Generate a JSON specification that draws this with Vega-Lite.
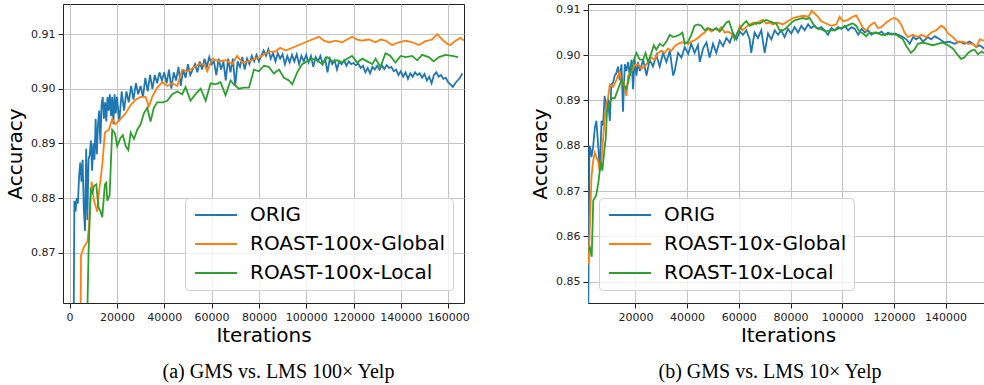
{
"$schema": "https://vega.github.io/schema/vega-lite/v6.json",
"padding": {"left": 5, "top": 3, "right": 0, "bottom": 0},
"background": "white",
"config": {
 "view": {"stroke": "#222222", "strokeWidth": 1},
 "axis": {"labelFont": "DejaVu Sans", "labelFontSize": 11, "labelColor": "#222222", "titleFont": "DejaVu Sans", "titleFontSize": 20, "titleFontWeight": "normal", "titleColor": "#000000", "tickColor": "#222222", "tickSize": 5, "labelPadding": 3, "gridColor": "#c4c4c4", "gridWidth": 1, "domain": false},
 "legend": {"labelFont": "DejaVu Sans", "labelFontSize": 20, "labelColor": "#000000", "symbolType": "M-1,0L5,0", "symbolStrokeWidth": 2, "symbolSize": 196, "fillColor": "rgba(255,255,255,0.8)", "strokeColor": "#d0d0d0", "cornerRadius": 4, "padding": 7, "rowPadding": 9, "labelOffset": 38, "orient": "none", "title": null, "labelLimit": 400},
 "title": {"font": "Liberation Serif", "fontSize": 20, "fontWeight": "normal", "color": "#000000", "orient": "bottom", "anchor": "middle", "frame": "group"}
},
"datasets": {
"a": [
{"series":"ORIG","iter":1700,"acc":0.855},{"series":"ORIG","iter":2000,"acc":0.8795},{"series":"ORIG","iter":2500,"acc":0.8775},{"series":"ORIG","iter":3000,"acc":0.88},{"series":"ORIG","iter":3500,"acc":0.879},{"series":"ORIG","iter":4000,"acc":0.884},{"series":"ORIG","iter":4500,"acc":0.8865},{"series":"ORIG","iter":5000,"acc":0.883},{"series":"ORIG","iter":5500,"acc":0.887},{"series":"ORIG","iter":6000,"acc":0.878},{"series":"ORIG","iter":6500,"acc":0.874},{"series":"ORIG","iter":7000,"acc":0.889},{"series":"ORIG","iter":7500,"acc":0.876},{"series":"ORIG","iter":8000,"acc":0.887},{"series":"ORIG","iter":8500,"acc":0.888},{"series":"ORIG","iter":9000,"acc":0.8905},{"series":"ORIG","iter":9500,"acc":0.885},{"series":"ORIG","iter":10000,"acc":0.89},{"series":"ORIG","iter":10500,"acc":0.887},{"series":"ORIG","iter":11000,"acc":0.8945},{"series":"ORIG","iter":11500,"acc":0.888},{"series":"ORIG","iter":12000,"acc":0.8935},{"series":"ORIG","iter":12500,"acc":0.896},{"series":"ORIG","iter":13000,"acc":0.89},{"series":"ORIG","iter":13500,"acc":0.897},{"series":"ORIG","iter":14000,"acc":0.8985},{"series":"ORIG","iter":14500,"acc":0.8945},{"series":"ORIG","iter":15000,"acc":0.8975},{"series":"ORIG","iter":15500,"acc":0.894},{"series":"ORIG","iter":16000,"acc":0.8985},{"series":"ORIG","iter":16500,"acc":0.896},{"series":"ORIG","iter":17000,"acc":0.899},{"series":"ORIG","iter":17500,"acc":0.895},{"series":"ORIG","iter":18000,"acc":0.8985},{"series":"ORIG","iter":18500,"acc":0.8935},{"series":"ORIG","iter":19000,"acc":0.899},{"series":"ORIG","iter":19500,"acc":0.8955},{"series":"ORIG","iter":20000,"acc":0.8985},{"series":"ORIG","iter":21000,"acc":0.894},{"series":"ORIG","iter":22000,"acc":0.8995},{"series":"ORIG","iter":23000,"acc":0.896},{"series":"ORIG","iter":24000,"acc":0.8995},{"series":"ORIG","iter":25000,"acc":0.8975},{"series":"ORIG","iter":26000,"acc":0.9005},{"series":"ORIG","iter":27000,"acc":0.898},{"series":"ORIG","iter":28000,"acc":0.901},{"series":"ORIG","iter":29000,"acc":0.899},{"series":"ORIG","iter":30000,"acc":0.9005},{"series":"ORIG","iter":31000,"acc":0.8985},{"series":"ORIG","iter":32000,"acc":0.902},{"series":"ORIG","iter":33000,"acc":0.8995},{"series":"ORIG","iter":34000,"acc":0.9025},{"series":"ORIG","iter":35000,"acc":0.9},{"series":"ORIG","iter":36000,"acc":0.9025},{"series":"ORIG","iter":37000,"acc":0.901},{"series":"ORIG","iter":38000,"acc":0.903},{"series":"ORIG","iter":39000,"acc":0.9015},{"series":"ORIG","iter":40000,"acc":0.903},{"series":"ORIG","iter":41000,"acc":0.901},{"series":"ORIG","iter":42000,"acc":0.9035},{"series":"ORIG","iter":43000,"acc":0.9},{"series":"ORIG","iter":44000,"acc":0.903},{"series":"ORIG","iter":45000,"acc":0.9015},{"series":"ORIG","iter":46000,"acc":0.904},{"series":"ORIG","iter":47000,"acc":0.9005},{"series":"ORIG","iter":48000,"acc":0.9035},{"series":"ORIG","iter":49000,"acc":0.902},{"series":"ORIG","iter":50000,"acc":0.9045},{"series":"ORIG","iter":51000,"acc":0.9025},{"series":"ORIG","iter":52000,"acc":0.9035},{"series":"ORIG","iter":53000,"acc":0.9045},{"series":"ORIG","iter":54000,"acc":0.903},{"series":"ORIG","iter":55000,"acc":0.905},{"series":"ORIG","iter":56000,"acc":0.9035},{"series":"ORIG","iter":57000,"acc":0.9055},{"series":"ORIG","iter":58000,"acc":0.904},{"series":"ORIG","iter":59000,"acc":0.9058},{"series":"ORIG","iter":60000,"acc":0.9045},{"series":"ORIG","iter":61000,"acc":0.905},{"series":"ORIG","iter":62000,"acc":0.9025},{"series":"ORIG","iter":63000,"acc":0.9055},{"series":"ORIG","iter":64000,"acc":0.9035},{"series":"ORIG","iter":65000,"acc":0.905},{"series":"ORIG","iter":66000,"acc":0.9015},{"series":"ORIG","iter":67000,"acc":0.9055},{"series":"ORIG","iter":68000,"acc":0.903},{"series":"ORIG","iter":69000,"acc":0.9055},{"series":"ORIG","iter":70000,"acc":0.9005},{"series":"ORIG","iter":71000,"acc":0.905},{"series":"ORIG","iter":72000,"acc":0.904},{"series":"ORIG","iter":73000,"acc":0.9058},{"series":"ORIG","iter":74000,"acc":0.9035},{"series":"ORIG","iter":75000,"acc":0.9055},{"series":"ORIG","iter":76000,"acc":0.9045},{"series":"ORIG","iter":77000,"acc":0.906},{"series":"ORIG","iter":78000,"acc":0.905},{"series":"ORIG","iter":79000,"acc":0.9062},{"series":"ORIG","iter":80000,"acc":0.905},{"series":"ORIG","iter":81000,"acc":0.906},{"series":"ORIG","iter":82000,"acc":0.907},{"series":"ORIG","iter":83000,"acc":0.906},{"series":"ORIG","iter":84000,"acc":0.9072},{"series":"ORIG","iter":85000,"acc":0.9055},{"series":"ORIG","iter":86000,"acc":0.9065},{"series":"ORIG","iter":87000,"acc":0.905},{"series":"ORIG","iter":88000,"acc":0.9065},{"series":"ORIG","iter":89000,"acc":0.9055},{"series":"ORIG","iter":90000,"acc":0.9063},{"series":"ORIG","iter":91000,"acc":0.9045},{"series":"ORIG","iter":92000,"acc":0.906},{"series":"ORIG","iter":93000,"acc":0.9048},{"series":"ORIG","iter":94000,"acc":0.9062},{"series":"ORIG","iter":95000,"acc":0.905},{"series":"ORIG","iter":96000,"acc":0.9063},{"series":"ORIG","iter":97000,"acc":0.9045},{"series":"ORIG","iter":98000,"acc":0.906},{"series":"ORIG","iter":99000,"acc":0.905},{"series":"ORIG","iter":100000,"acc":0.9062},{"series":"ORIG","iter":101000,"acc":0.9048},{"series":"ORIG","iter":102000,"acc":0.906},{"series":"ORIG","iter":103000,"acc":0.904},{"series":"ORIG","iter":104000,"acc":0.9058},{"series":"ORIG","iter":105000,"acc":0.905},{"series":"ORIG","iter":106000,"acc":0.906},{"series":"ORIG","iter":107000,"acc":0.9045},{"series":"ORIG","iter":108000,"acc":0.9055},{"series":"ORIG","iter":109000,"acc":0.903},{"series":"ORIG","iter":110000,"acc":0.9055},{"series":"ORIG","iter":111000,"acc":0.9045},{"series":"ORIG","iter":112000,"acc":0.9052},{"series":"ORIG","iter":113000,"acc":0.9035},{"series":"ORIG","iter":114000,"acc":0.905},{"series":"ORIG","iter":115000,"acc":0.9045},{"series":"ORIG","iter":116000,"acc":0.9052},{"series":"ORIG","iter":117000,"acc":0.9042},{"series":"ORIG","iter":118000,"acc":0.905},{"series":"ORIG","iter":119000,"acc":0.9045},{"series":"ORIG","iter":120000,"acc":0.9047},{"series":"ORIG","iter":121000,"acc":0.9043},{"series":"ORIG","iter":122000,"acc":0.9046},{"series":"ORIG","iter":123000,"acc":0.9038},{"series":"ORIG","iter":124000,"acc":0.9042},{"series":"ORIG","iter":125000,"acc":0.903},{"series":"ORIG","iter":126000,"acc":0.9038},{"series":"ORIG","iter":127000,"acc":0.9028},{"series":"ORIG","iter":128000,"acc":0.904},{"series":"ORIG","iter":129000,"acc":0.9035},{"series":"ORIG","iter":130000,"acc":0.9042},{"series":"ORIG","iter":131000,"acc":0.9035},{"series":"ORIG","iter":132000,"acc":0.9043},{"series":"ORIG","iter":133000,"acc":0.9036},{"series":"ORIG","iter":134000,"acc":0.9043},{"series":"ORIG","iter":135000,"acc":0.9038},{"series":"ORIG","iter":136000,"acc":0.904},{"series":"ORIG","iter":137000,"acc":0.9032},{"series":"ORIG","iter":138000,"acc":0.9035},{"series":"ORIG","iter":139000,"acc":0.9025},{"series":"ORIG","iter":140000,"acc":0.9032},{"series":"ORIG","iter":141000,"acc":0.9022},{"series":"ORIG","iter":142000,"acc":0.903},{"series":"ORIG","iter":143000,"acc":0.9018},{"series":"ORIG","iter":144000,"acc":0.9028},{"series":"ORIG","iter":145000,"acc":0.9022},{"series":"ORIG","iter":146000,"acc":0.903},{"series":"ORIG","iter":147000,"acc":0.9025},{"series":"ORIG","iter":148000,"acc":0.9028},{"series":"ORIG","iter":149000,"acc":0.902},{"series":"ORIG","iter":150000,"acc":0.9027},{"series":"ORIG","iter":151000,"acc":0.9015},{"series":"ORIG","iter":152000,"acc":0.9022},{"series":"ORIG","iter":153000,"acc":0.901},{"series":"ORIG","iter":154000,"acc":0.9025},{"series":"ORIG","iter":155000,"acc":0.903},{"series":"ORIG","iter":156000,"acc":0.9022},{"series":"ORIG","iter":157000,"acc":0.9025},{"series":"ORIG","iter":158000,"acc":0.9018},{"series":"ORIG","iter":159000,"acc":0.902},{"series":"ORIG","iter":160000,"acc":0.9012},{"series":"ORIG","iter":161000,"acc":0.9008},{"series":"ORIG","iter":162000,"acc":0.9003},{"series":"ORIG","iter":163000,"acc":0.901},{"series":"ORIG","iter":164000,"acc":0.9015},{"series":"ORIG","iter":165000,"acc":0.902},{"series":"ORIG","iter":166000,"acc":0.9028},
{"series":"ROAST-100x-Global","iter":4600,"acc":0.855},{"series":"ROAST-100x-Global","iter":4800,"acc":0.8695},{"series":"ROAST-100x-Global","iter":6000,"acc":0.871},{"series":"ROAST-100x-Global","iter":7500,"acc":0.872},{"series":"ROAST-100x-Global","iter":8200,"acc":0.875},{"series":"ROAST-100x-Global","iter":9300,"acc":0.883},{"series":"ROAST-100x-Global","iter":10300,"acc":0.8795},{"series":"ROAST-100x-Global","iter":11700,"acc":0.8775},{"series":"ROAST-100x-Global","iter":12400,"acc":0.881},{"series":"ROAST-100x-Global","iter":13800,"acc":0.886},{"series":"ROAST-100x-Global","iter":14900,"acc":0.892},{"series":"ROAST-100x-Global","iter":16600,"acc":0.8925},{"series":"ROAST-100x-Global","iter":18000,"acc":0.8945},{"series":"ROAST-100x-Global","iter":19400,"acc":0.8935},{"series":"ROAST-100x-Global","iter":21500,"acc":0.8945},{"series":"ROAST-100x-Global","iter":23700,"acc":0.8955},{"series":"ROAST-100x-Global","iter":25800,"acc":0.897},{"series":"ROAST-100x-Global","iter":27900,"acc":0.898},{"series":"ROAST-100x-Global","iter":30000,"acc":0.8985},{"series":"ROAST-100x-Global","iter":32100,"acc":0.8985},{"series":"ROAST-100x-Global","iter":33500,"acc":0.8968},{"series":"ROAST-100x-Global","iter":34900,"acc":0.8985},{"series":"ROAST-100x-Global","iter":37000,"acc":0.9002},{"series":"ROAST-100x-Global","iter":39200,"acc":0.9012},{"series":"ROAST-100x-Global","iter":41300,"acc":0.9005},{"series":"ROAST-100x-Global","iter":43400,"acc":0.901},{"series":"ROAST-100x-Global","iter":45500,"acc":0.9005},{"series":"ROAST-100x-Global","iter":47600,"acc":0.9035},{"series":"ROAST-100x-Global","iter":49700,"acc":0.9032},{"series":"ROAST-100x-Global","iter":51800,"acc":0.9037},{"series":"ROAST-100x-Global","iter":54600,"acc":0.9045},{"series":"ROAST-100x-Global","iter":56800,"acc":0.9045},{"series":"ROAST-100x-Global","iter":58200,"acc":0.9032},{"series":"ROAST-100x-Global","iter":60300,"acc":0.9055},{"series":"ROAST-100x-Global","iter":63100,"acc":0.905},{"series":"ROAST-100x-Global","iter":65900,"acc":0.9052},{"series":"ROAST-100x-Global","iter":68700,"acc":0.9045},{"series":"ROAST-100x-Global","iter":70800,"acc":0.906},{"series":"ROAST-100x-Global","iter":73000,"acc":0.9048},{"series":"ROAST-100x-Global","iter":75800,"acc":0.905},{"series":"ROAST-100x-Global","iter":78600,"acc":0.9055},{"series":"ROAST-100x-Global","iter":80700,"acc":0.9058},{"series":"ROAST-100x-Global","iter":82800,"acc":0.9065},{"series":"ROAST-100x-Global","iter":84900,"acc":0.9068},{"series":"ROAST-100x-Global","iter":87000,"acc":0.9068},{"series":"ROAST-100x-Global","iter":89000,"acc":0.9075},{"series":"ROAST-100x-Global","iter":91300,"acc":0.907},{"series":"ROAST-100x-Global","iter":94100,"acc":0.9075},{"series":"ROAST-100x-Global","iter":96900,"acc":0.908},{"series":"ROAST-100x-Global","iter":99700,"acc":0.9085},{"series":"ROAST-100x-Global","iter":102500,"acc":0.909},{"series":"ROAST-100x-Global","iter":105400,"acc":0.9095},{"series":"ROAST-100x-Global","iter":107500,"acc":0.9088},{"series":"ROAST-100x-Global","iter":109600,"acc":0.9085},{"series":"ROAST-100x-Global","iter":112400,"acc":0.9088},{"series":"ROAST-100x-Global","iter":115200,"acc":0.9085},{"series":"ROAST-100x-Global","iter":117300,"acc":0.909},{"series":"ROAST-100x-Global","iter":119400,"acc":0.9095},{"series":"ROAST-100x-Global","iter":121500,"acc":0.909},{"series":"ROAST-100x-Global","iter":123700,"acc":0.9088},{"series":"ROAST-100x-Global","iter":126500,"acc":0.909},{"series":"ROAST-100x-Global","iter":129300,"acc":0.9085},{"series":"ROAST-100x-Global","iter":131400,"acc":0.909},{"series":"ROAST-100x-Global","iter":133500,"acc":0.9088},{"series":"ROAST-100x-Global","iter":136300,"acc":0.908},{"series":"ROAST-100x-Global","iter":139200,"acc":0.9085},{"series":"ROAST-100x-Global","iter":142000,"acc":0.9088},{"series":"ROAST-100x-Global","iter":144800,"acc":0.9085},{"series":"ROAST-100x-Global","iter":147600,"acc":0.908},{"series":"ROAST-100x-Global","iter":150400,"acc":0.9087},{"series":"ROAST-100x-Global","iter":153200,"acc":0.909},{"series":"ROAST-100x-Global","iter":155400,"acc":0.91},{"series":"ROAST-100x-Global","iter":157500,"acc":0.909},{"series":"ROAST-100x-Global","iter":159600,"acc":0.9082},{"series":"ROAST-100x-Global","iter":161000,"acc":0.908},{"series":"ROAST-100x-Global","iter":163100,"acc":0.9088},{"series":"ROAST-100x-Global","iter":165200,"acc":0.9093},{"series":"ROAST-100x-Global","iter":166600,"acc":0.9088},
{"series":"ROAST-100x-Local","iter":7300,"acc":0.855},{"series":"ROAST-100x-Local","iter":8000,"acc":0.87},{"series":"ROAST-100x-Local","iter":8900,"acc":0.8815},{"series":"ROAST-100x-Local","iter":9600,"acc":0.881},{"series":"ROAST-100x-Local","iter":10300,"acc":0.8822},{"series":"ROAST-100x-Local","iter":11300,"acc":0.8825},{"series":"ROAST-100x-Local","iter":12100,"acc":0.8785},{"series":"ROAST-100x-Local","iter":13100,"acc":0.8775},{"series":"ROAST-100x-Local","iter":13800,"acc":0.8765},{"series":"ROAST-100x-Local","iter":14900,"acc":0.8825},{"series":"ROAST-100x-Local","iter":15500,"acc":0.8828},{"series":"ROAST-100x-Local","iter":15900,"acc":0.8795},{"series":"ROAST-100x-Local","iter":16900,"acc":0.8805},{"series":"ROAST-100x-Local","iter":18000,"acc":0.8925},{"series":"ROAST-100x-Local","iter":19200,"acc":0.8918},{"series":"ROAST-100x-Local","iter":20100,"acc":0.8895},{"series":"ROAST-100x-Local","iter":21500,"acc":0.891},{"series":"ROAST-100x-Local","iter":22500,"acc":0.8915},{"series":"ROAST-100x-Local","iter":23700,"acc":0.8895},{"series":"ROAST-100x-Local","iter":24800,"acc":0.8888},{"series":"ROAST-100x-Local","iter":25800,"acc":0.892},{"series":"ROAST-100x-Local","iter":27200,"acc":0.8908},{"series":"ROAST-100x-Local","iter":28600,"acc":0.8925},{"series":"ROAST-100x-Local","iter":30000,"acc":0.8935},{"series":"ROAST-100x-Local","iter":31400,"acc":0.8955},{"series":"ROAST-100x-Local","iter":32800,"acc":0.8965},{"series":"ROAST-100x-Local","iter":34200,"acc":0.894},{"series":"ROAST-100x-Local","iter":35600,"acc":0.8965},{"series":"ROAST-100x-Local","iter":37000,"acc":0.8975},{"series":"ROAST-100x-Local","iter":39200,"acc":0.8975},{"series":"ROAST-100x-Local","iter":41300,"acc":0.8978},{"series":"ROAST-100x-Local","iter":43400,"acc":0.899},{"series":"ROAST-100x-Local","iter":45500,"acc":0.8995},{"series":"ROAST-100x-Local","iter":47600,"acc":0.899},{"series":"ROAST-100x-Local","iter":49000,"acc":0.9003},{"series":"ROAST-100x-Local","iter":51100,"acc":0.8978},{"series":"ROAST-100x-Local","iter":53200,"acc":0.899},{"series":"ROAST-100x-Local","iter":55400,"acc":0.9},{"series":"ROAST-100x-Local","iter":57500,"acc":0.8978},{"series":"ROAST-100x-Local","iter":59600,"acc":0.901},{"series":"ROAST-100x-Local","iter":61700,"acc":0.9008},{"series":"ROAST-100x-Local","iter":63800,"acc":0.9012},{"series":"ROAST-100x-Local","iter":65900,"acc":0.8988},{"series":"ROAST-100x-Local","iter":68000,"acc":0.9015},{"series":"ROAST-100x-Local","iter":69400,"acc":0.9008},{"series":"ROAST-100x-Local","iter":71500,"acc":0.9},{"series":"ROAST-100x-Local","iter":73700,"acc":0.9002},{"series":"ROAST-100x-Local","iter":75800,"acc":0.9002},{"series":"ROAST-100x-Local","iter":77900,"acc":0.9035},{"series":"ROAST-100x-Local","iter":80000,"acc":0.9032},{"series":"ROAST-100x-Local","iter":82100,"acc":0.9042},{"series":"ROAST-100x-Local","iter":84200,"acc":0.904},{"series":"ROAST-100x-Local","iter":86300,"acc":0.9028},{"series":"ROAST-100x-Local","iter":88500,"acc":0.9035},{"series":"ROAST-100x-Local","iter":90600,"acc":0.902},{"series":"ROAST-100x-Local","iter":92700,"acc":0.9015},{"series":"ROAST-100x-Local","iter":94100,"acc":0.9008},{"series":"ROAST-100x-Local","iter":96200,"acc":0.903},{"series":"ROAST-100x-Local","iter":98300,"acc":0.9045},{"series":"ROAST-100x-Local","iter":100400,"acc":0.905},{"series":"ROAST-100x-Local","iter":102500,"acc":0.9055},{"series":"ROAST-100x-Local","iter":104600,"acc":0.9052},{"series":"ROAST-100x-Local","iter":106800,"acc":0.9045},{"series":"ROAST-100x-Local","iter":108900,"acc":0.9058},{"series":"ROAST-100x-Local","iter":111000,"acc":0.905},{"series":"ROAST-100x-Local","iter":113100,"acc":0.9052},{"series":"ROAST-100x-Local","iter":115200,"acc":0.9048},{"series":"ROAST-100x-Local","iter":117300,"acc":0.9055},{"series":"ROAST-100x-Local","iter":119400,"acc":0.906},{"series":"ROAST-100x-Local","iter":121500,"acc":0.9048},{"series":"ROAST-100x-Local","iter":123700,"acc":0.9055},{"series":"ROAST-100x-Local","iter":125800,"acc":0.905},{"series":"ROAST-100x-Local","iter":127900,"acc":0.9045},{"series":"ROAST-100x-Local","iter":129300,"acc":0.9055},{"series":"ROAST-100x-Local","iter":131400,"acc":0.904},{"series":"ROAST-100x-Local","iter":133500,"acc":0.9065},{"series":"ROAST-100x-Local","iter":135600,"acc":0.906},{"series":"ROAST-100x-Local","iter":137700,"acc":0.9048},{"series":"ROAST-100x-Local","iter":139900,"acc":0.906},{"series":"ROAST-100x-Local","iter":142000,"acc":0.9058},{"series":"ROAST-100x-Local","iter":144800,"acc":0.906},{"series":"ROAST-100x-Local","iter":146900,"acc":0.9052},{"series":"ROAST-100x-Local","iter":149000,"acc":0.9062},{"series":"ROAST-100x-Local","iter":151800,"acc":0.9058},{"series":"ROAST-100x-Local","iter":153900,"acc":0.905},{"series":"ROAST-100x-Local","iter":156100,"acc":0.9058},{"series":"ROAST-100x-Local","iter":158900,"acc":0.9062},{"series":"ROAST-100x-Local","iter":161700,"acc":0.906},{"series":"ROAST-100x-Local","iter":164200,"acc":0.9058}
],
"b": [
{"series":"ORIG","iter":1700,"acc":0.838},{"series":"ORIG","iter":2200,"acc":0.88},{"series":"ORIG","iter":2600,"acc":0.8795},{"series":"ORIG","iter":3000,"acc":0.8775},{"series":"ORIG","iter":3600,"acc":0.8795},{"series":"ORIG","iter":4300,"acc":0.884},{"series":"ORIG","iter":4900,"acc":0.8855},{"series":"ORIG","iter":5600,"acc":0.88},{"series":"ORIG","iter":6200,"acc":0.8745},{"series":"ORIG","iter":6900,"acc":0.8855},{"series":"ORIG","iter":7500,"acc":0.8845},{"series":"ORIG","iter":8100,"acc":0.891},{"series":"ORIG","iter":8800,"acc":0.8875},{"series":"ORIG","iter":9400,"acc":0.8905},{"series":"ORIG","iter":10100,"acc":0.8855},{"series":"ORIG","iter":10700,"acc":0.8935},{"series":"ORIG","iter":11400,"acc":0.894},{"series":"ORIG","iter":12000,"acc":0.8955},{"series":"ORIG","iter":12600,"acc":0.896},{"series":"ORIG","iter":13300,"acc":0.8975},{"series":"ORIG","iter":13900,"acc":0.8945},{"series":"ORIG","iter":14600,"acc":0.898},{"series":"ORIG","iter":15200,"acc":0.8875},{"series":"ORIG","iter":15900,"acc":0.898},{"series":"ORIG","iter":16500,"acc":0.8965},{"series":"ORIG","iter":17200,"acc":0.8985},{"series":"ORIG","iter":17800,"acc":0.8955},{"series":"ORIG","iter":18500,"acc":0.899},{"series":"ORIG","iter":19100,"acc":0.8925},{"series":"ORIG","iter":19700,"acc":0.899},{"series":"ORIG","iter":20400,"acc":0.8955},{"series":"ORIG","iter":21000,"acc":0.8985},{"series":"ORIG","iter":21700,"acc":0.8965},{"series":"ORIG","iter":23000,"acc":0.899},{"series":"ORIG","iter":24300,"acc":0.8955},{"series":"ORIG","iter":25500,"acc":0.899},{"series":"ORIG","iter":26800,"acc":0.8975},{"series":"ORIG","iter":28100,"acc":0.9},{"series":"ORIG","iter":29400,"acc":0.8975},{"series":"ORIG","iter":30700,"acc":0.9005},{"series":"ORIG","iter":32000,"acc":0.8985},{"series":"ORIG","iter":33300,"acc":0.901},{"series":"ORIG","iter":34600,"acc":0.8955},{"series":"ORIG","iter":35200,"acc":0.8965},{"series":"ORIG","iter":36500,"acc":0.9005},{"series":"ORIG","iter":37800,"acc":0.8995},{"series":"ORIG","iter":39100,"acc":0.9018},{"series":"ORIG","iter":40400,"acc":0.9003},{"series":"ORIG","iter":41600,"acc":0.9025},{"series":"ORIG","iter":42900,"acc":0.9005},{"series":"ORIG","iter":44200,"acc":0.9022},{"series":"ORIG","iter":44900,"acc":0.8985},{"series":"ORIG","iter":46200,"acc":0.9015},{"series":"ORIG","iter":47500,"acc":0.9028},{"series":"ORIG","iter":48700,"acc":0.8995},{"series":"ORIG","iter":50000,"acc":0.9025},{"series":"ORIG","iter":51300,"acc":0.9005},{"series":"ORIG","iter":52600,"acc":0.9032},{"series":"ORIG","iter":53900,"acc":0.902},{"series":"ORIG","iter":55200,"acc":0.9038},{"series":"ORIG","iter":56500,"acc":0.9028},{"series":"ORIG","iter":57800,"acc":0.9048},{"series":"ORIG","iter":59100,"acc":0.9035},{"series":"ORIG","iter":60400,"acc":0.9052},{"series":"ORIG","iter":61600,"acc":0.9045},{"series":"ORIG","iter":62900,"acc":0.9055},{"series":"ORIG","iter":64200,"acc":0.9035},{"series":"ORIG","iter":64800,"acc":0.9005},{"series":"ORIG","iter":66100,"acc":0.905},{"series":"ORIG","iter":67400,"acc":0.9038},{"series":"ORIG","iter":68700,"acc":0.9055},{"series":"ORIG","iter":70000,"acc":0.9005},{"series":"ORIG","iter":71300,"acc":0.9048},{"series":"ORIG","iter":72600,"acc":0.9035},{"series":"ORIG","iter":73900,"acc":0.9055},{"series":"ORIG","iter":75200,"acc":0.9045},{"series":"ORIG","iter":76400,"acc":0.9055},{"series":"ORIG","iter":77700,"acc":0.904},{"series":"ORIG","iter":79000,"acc":0.9058},{"series":"ORIG","iter":80300,"acc":0.9048},{"series":"ORIG","iter":81600,"acc":0.9062},{"series":"ORIG","iter":82900,"acc":0.905},{"series":"ORIG","iter":84200,"acc":0.9065},{"series":"ORIG","iter":85500,"acc":0.9055},{"series":"ORIG","iter":86800,"acc":0.9068},{"series":"ORIG","iter":88000,"acc":0.906},{"series":"ORIG","iter":89300,"acc":0.9065},{"series":"ORIG","iter":90600,"acc":0.9058},{"series":"ORIG","iter":91900,"acc":0.9062},{"series":"ORIG","iter":93200,"acc":0.9055},{"series":"ORIG","iter":94500,"acc":0.9045},{"series":"ORIG","iter":95800,"acc":0.906},{"series":"ORIG","iter":97100,"acc":0.9055},{"series":"ORIG","iter":98400,"acc":0.9062},{"series":"ORIG","iter":99700,"acc":0.9058},{"series":"ORIG","iter":101000,"acc":0.9065},{"series":"ORIG","iter":102300,"acc":0.9055},{"series":"ORIG","iter":103600,"acc":0.9062},{"series":"ORIG","iter":104900,"acc":0.9058},{"series":"ORIG","iter":106200,"acc":0.9045},{"series":"ORIG","iter":107500,"acc":0.9058},{"series":"ORIG","iter":108800,"acc":0.905},{"series":"ORIG","iter":110000,"acc":0.9055},{"series":"ORIG","iter":111300,"acc":0.9045},{"series":"ORIG","iter":112600,"acc":0.905},{"series":"ORIG","iter":113900,"acc":0.9048},{"series":"ORIG","iter":115200,"acc":0.9052},{"series":"ORIG","iter":116500,"acc":0.9045},{"series":"ORIG","iter":117800,"acc":0.905},{"series":"ORIG","iter":119100,"acc":0.9045},{"series":"ORIG","iter":120400,"acc":0.9048},{"series":"ORIG","iter":121700,"acc":0.9045},{"series":"ORIG","iter":123500,"acc":0.904},{"series":"ORIG","iter":124800,"acc":0.9035},{"series":"ORIG","iter":126100,"acc":0.9025},{"series":"ORIG","iter":127400,"acc":0.904},{"series":"ORIG","iter":128600,"acc":0.9035},{"series":"ORIG","iter":129900,"acc":0.904},{"series":"ORIG","iter":131200,"acc":0.903},{"series":"ORIG","iter":133100,"acc":0.904},{"series":"ORIG","iter":134400,"acc":0.9035},{"series":"ORIG","iter":135800,"acc":0.9042},{"series":"ORIG","iter":137700,"acc":0.9035},{"series":"ORIG","iter":139600,"acc":0.9028},{"series":"ORIG","iter":141500,"acc":0.903},{"series":"ORIG","iter":143500,"acc":0.9025},{"series":"ORIG","iter":145400,"acc":0.903},{"series":"ORIG","iter":147300,"acc":0.9025},{"series":"ORIG","iter":149300,"acc":0.903},{"series":"ORIG","iter":150600,"acc":0.9025},{"series":"ORIG","iter":151900,"acc":0.9018},{"series":"ORIG","iter":153200,"acc":0.9022},{"series":"ORIG","iter":154800,"acc":0.9015},{"series":"ORIG","iter":156000,"acc":0.902},
{"series":"ROAST-10x-Global","iter":1900,"acc":0.8538},{"series":"ROAST-10x-Global","iter":3000,"acc":0.873},{"series":"ROAST-10x-Global","iter":3600,"acc":0.8765},{"series":"ROAST-10x-Global","iter":4300,"acc":0.8785},{"series":"ROAST-10x-Global","iter":4900,"acc":0.8775},{"series":"ROAST-10x-Global","iter":5600,"acc":0.8765},{"series":"ROAST-10x-Global","iter":6200,"acc":0.8745},{"series":"ROAST-10x-Global","iter":6900,"acc":0.877},{"series":"ROAST-10x-Global","iter":7500,"acc":0.8815},{"series":"ROAST-10x-Global","iter":8100,"acc":0.886},{"series":"ROAST-10x-Global","iter":8800,"acc":0.8895},{"series":"ROAST-10x-Global","iter":9400,"acc":0.8905},{"series":"ROAST-10x-Global","iter":10100,"acc":0.8935},{"series":"ROAST-10x-Global","iter":11400,"acc":0.893},{"series":"ROAST-10x-Global","iter":12600,"acc":0.8945},{"series":"ROAST-10x-Global","iter":13900,"acc":0.8965},{"series":"ROAST-10x-Global","iter":14600,"acc":0.8935},{"series":"ROAST-10x-Global","iter":15500,"acc":0.894},{"series":"ROAST-10x-Global","iter":16500,"acc":0.891},{"series":"ROAST-10x-Global","iter":17200,"acc":0.8955},{"series":"ROAST-10x-Global","iter":18500,"acc":0.8965},{"series":"ROAST-10x-Global","iter":19700,"acc":0.8978},{"series":"ROAST-10x-Global","iter":21000,"acc":0.898},{"series":"ROAST-10x-Global","iter":22300,"acc":0.897},{"series":"ROAST-10x-Global","iter":23600,"acc":0.8975},{"series":"ROAST-10x-Global","iter":24900,"acc":0.8985},{"series":"ROAST-10x-Global","iter":26200,"acc":0.8995},{"series":"ROAST-10x-Global","iter":27500,"acc":0.899},{"series":"ROAST-10x-Global","iter":28800,"acc":0.9005},{"series":"ROAST-10x-Global","iter":30100,"acc":0.901},{"series":"ROAST-10x-Global","iter":31300,"acc":0.9005},{"series":"ROAST-10x-Global","iter":32600,"acc":0.9015},{"series":"ROAST-10x-Global","iter":33900,"acc":0.901},{"series":"ROAST-10x-Global","iter":35200,"acc":0.902},{"series":"ROAST-10x-Global","iter":36500,"acc":0.9025},{"series":"ROAST-10x-Global","iter":37800,"acc":0.9028},{"series":"ROAST-10x-Global","iter":39100,"acc":0.9028},{"series":"ROAST-10x-Global","iter":40400,"acc":0.9025},{"series":"ROAST-10x-Global","iter":41600,"acc":0.903},{"series":"ROAST-10x-Global","iter":42900,"acc":0.9033},{"series":"ROAST-10x-Global","iter":44200,"acc":0.9038},{"series":"ROAST-10x-Global","iter":45500,"acc":0.9045},{"series":"ROAST-10x-Global","iter":46800,"acc":0.905},{"series":"ROAST-10x-Global","iter":48100,"acc":0.9058},{"series":"ROAST-10x-Global","iter":49400,"acc":0.9052},{"series":"ROAST-10x-Global","iter":50700,"acc":0.9058},{"series":"ROAST-10x-Global","iter":52000,"acc":0.9055},{"series":"ROAST-10x-Global","iter":53200,"acc":0.9062},{"series":"ROAST-10x-Global","iter":54500,"acc":0.905},{"series":"ROAST-10x-Global","iter":55800,"acc":0.9052},{"series":"ROAST-10x-Global","iter":57100,"acc":0.9048},{"series":"ROAST-10x-Global","iter":58400,"acc":0.9038},{"series":"ROAST-10x-Global","iter":59300,"acc":0.9045},{"series":"ROAST-10x-Global","iter":60400,"acc":0.9065},{"series":"ROAST-10x-Global","iter":61400,"acc":0.9055},{"series":"ROAST-10x-Global","iter":62900,"acc":0.9062},{"series":"ROAST-10x-Global","iter":64200,"acc":0.9068},{"series":"ROAST-10x-Global","iter":65500,"acc":0.9072},{"series":"ROAST-10x-Global","iter":66800,"acc":0.9068},{"series":"ROAST-10x-Global","iter":68100,"acc":0.9075},{"series":"ROAST-10x-Global","iter":69400,"acc":0.9078},{"series":"ROAST-10x-Global","iter":70600,"acc":0.907},{"series":"ROAST-10x-Global","iter":71900,"acc":0.9072},{"series":"ROAST-10x-Global","iter":73200,"acc":0.9068},{"series":"ROAST-10x-Global","iter":75000,"acc":0.9072},{"series":"ROAST-10x-Global","iter":77000,"acc":0.9068},{"series":"ROAST-10x-Global","iter":79000,"acc":0.9075},{"series":"ROAST-10x-Global","iter":81000,"acc":0.9082},{"series":"ROAST-10x-Global","iter":83000,"acc":0.9085},{"series":"ROAST-10x-Global","iter":85000,"acc":0.9087},{"series":"ROAST-10x-Global","iter":87000,"acc":0.9085},{"series":"ROAST-10x-Global","iter":88200,"acc":0.9098},{"series":"ROAST-10x-Global","iter":90600,"acc":0.9085},{"series":"ROAST-10x-Global","iter":91900,"acc":0.9075},{"series":"ROAST-10x-Global","iter":93800,"acc":0.907},{"series":"ROAST-10x-Global","iter":95800,"acc":0.9065},{"series":"ROAST-10x-Global","iter":97700,"acc":0.9068},{"series":"ROAST-10x-Global","iter":99000,"acc":0.9085},{"series":"ROAST-10x-Global","iter":100300,"acc":0.9075},{"series":"ROAST-10x-Global","iter":102200,"acc":0.9078},{"series":"ROAST-10x-Global","iter":104100,"acc":0.9085},{"series":"ROAST-10x-Global","iter":105400,"acc":0.9088},{"series":"ROAST-10x-Global","iter":106700,"acc":0.9075},{"series":"ROAST-10x-Global","iter":108000,"acc":0.906},{"series":"ROAST-10x-Global","iter":109300,"acc":0.9055},{"series":"ROAST-10x-Global","iter":111200,"acc":0.9068},{"series":"ROAST-10x-Global","iter":112500,"acc":0.9072},{"series":"ROAST-10x-Global","iter":113800,"acc":0.906},{"series":"ROAST-10x-Global","iter":115100,"acc":0.9062},{"series":"ROAST-10x-Global","iter":117000,"acc":0.9072},{"series":"ROAST-10x-Global","iter":119000,"acc":0.908},{"series":"ROAST-10x-Global","iter":120200,"acc":0.9082},{"series":"ROAST-10x-Global","iter":121500,"acc":0.9078},{"series":"ROAST-10x-Global","iter":122800,"acc":0.9068},{"series":"ROAST-10x-Global","iter":124100,"acc":0.905},{"series":"ROAST-10x-Global","iter":125400,"acc":0.904},{"series":"ROAST-10x-Global","iter":127300,"acc":0.9045},{"series":"ROAST-10x-Global","iter":129300,"acc":0.904},{"series":"ROAST-10x-Global","iter":130600,"acc":0.9045},{"series":"ROAST-10x-Global","iter":132500,"acc":0.904},{"series":"ROAST-10x-Global","iter":134400,"acc":0.905},{"series":"ROAST-10x-Global","iter":136400,"acc":0.9055},{"series":"ROAST-10x-Global","iter":138300,"acc":0.9065},{"series":"ROAST-10x-Global","iter":139600,"acc":0.906},{"series":"ROAST-10x-Global","iter":140900,"acc":0.9048},{"series":"ROAST-10x-Global","iter":142800,"acc":0.904},{"series":"ROAST-10x-Global","iter":144800,"acc":0.9028},{"series":"ROAST-10x-Global","iter":146700,"acc":0.903},{"series":"ROAST-10x-Global","iter":148700,"acc":0.9025},{"series":"ROAST-10x-Global","iter":150600,"acc":0.9025},{"series":"ROAST-10x-Global","iter":151900,"acc":0.9018},{"series":"ROAST-10x-Global","iter":153200,"acc":0.9035},{"series":"ROAST-10x-Global","iter":154800,"acc":0.9032},{"series":"ROAST-10x-Global","iter":156000,"acc":0.903},
{"series":"ROAST-10x-Local","iter":1900,"acc":0.857},{"series":"ROAST-10x-Local","iter":2400,"acc":0.8575},{"series":"ROAST-10x-Local","iter":3100,"acc":0.8555},{"series":"ROAST-10x-Local","iter":3700,"acc":0.868},{"series":"ROAST-10x-Local","iter":4800,"acc":0.869},{"series":"ROAST-10x-Local","iter":5700,"acc":0.872},{"series":"ROAST-10x-Local","iter":6600,"acc":0.8765},{"series":"ROAST-10x-Local","iter":7200,"acc":0.8745},{"series":"ROAST-10x-Local","iter":7900,"acc":0.8785},{"series":"ROAST-10x-Local","iter":8500,"acc":0.8815},{"series":"ROAST-10x-Local","iter":9000,"acc":0.8875},{"series":"ROAST-10x-Local","iter":9700,"acc":0.889},{"series":"ROAST-10x-Local","iter":10700,"acc":0.8905},{"series":"ROAST-10x-Local","iter":12000,"acc":0.8905},{"series":"ROAST-10x-Local","iter":13300,"acc":0.8925},{"series":"ROAST-10x-Local","iter":14600,"acc":0.8945},{"series":"ROAST-10x-Local","iter":15500,"acc":0.8935},{"series":"ROAST-10x-Local","iter":16500,"acc":0.8925},{"series":"ROAST-10x-Local","iter":17800,"acc":0.8955},{"series":"ROAST-10x-Local","iter":19100,"acc":0.8985},{"series":"ROAST-10x-Local","iter":20400,"acc":0.9005},{"series":"ROAST-10x-Local","iter":21700,"acc":0.899},{"series":"ROAST-10x-Local","iter":23000,"acc":0.899},{"series":"ROAST-10x-Local","iter":23900,"acc":0.9005},{"series":"ROAST-10x-Local","iter":24900,"acc":0.8985},{"series":"ROAST-10x-Local","iter":26200,"acc":0.9005},{"series":"ROAST-10x-Local","iter":27100,"acc":0.9022},{"series":"ROAST-10x-Local","iter":28100,"acc":0.9012},{"series":"ROAST-10x-Local","iter":29400,"acc":0.9025},{"series":"ROAST-10x-Local","iter":30700,"acc":0.902},{"series":"ROAST-10x-Local","iter":32000,"acc":0.903},{"series":"ROAST-10x-Local","iter":33300,"acc":0.9045},{"series":"ROAST-10x-Local","iter":34600,"acc":0.904},{"series":"ROAST-10x-Local","iter":35800,"acc":0.9042},{"series":"ROAST-10x-Local","iter":37100,"acc":0.9045},{"series":"ROAST-10x-Local","iter":38200,"acc":0.905},{"series":"ROAST-10x-Local","iter":39100,"acc":0.9025},{"series":"ROAST-10x-Local","iter":40400,"acc":0.903},{"series":"ROAST-10x-Local","iter":41600,"acc":0.9045},{"series":"ROAST-10x-Local","iter":42900,"acc":0.9065},{"series":"ROAST-10x-Local","iter":44200,"acc":0.9068},{"series":"ROAST-10x-Local","iter":45500,"acc":0.9065},{"series":"ROAST-10x-Local","iter":46800,"acc":0.9055},{"series":"ROAST-10x-Local","iter":48100,"acc":0.906},{"series":"ROAST-10x-Local","iter":50000,"acc":0.9055},{"series":"ROAST-10x-Local","iter":51300,"acc":0.906},{"series":"ROAST-10x-Local","iter":52600,"acc":0.9052},{"series":"ROAST-10x-Local","iter":53900,"acc":0.9062},{"series":"ROAST-10x-Local","iter":55200,"acc":0.9072},{"series":"ROAST-10x-Local","iter":56200,"acc":0.9075},{"series":"ROAST-10x-Local","iter":57100,"acc":0.906},{"series":"ROAST-10x-Local","iter":58400,"acc":0.9035},{"series":"ROAST-10x-Local","iter":59300,"acc":0.9048},{"series":"ROAST-10x-Local","iter":60400,"acc":0.9058},{"series":"ROAST-10x-Local","iter":61600,"acc":0.9068},{"series":"ROAST-10x-Local","iter":62900,"acc":0.9075},{"series":"ROAST-10x-Local","iter":64200,"acc":0.9065},{"series":"ROAST-10x-Local","iter":65500,"acc":0.9068},{"series":"ROAST-10x-Local","iter":66800,"acc":0.9072},{"series":"ROAST-10x-Local","iter":68100,"acc":0.907},{"series":"ROAST-10x-Local","iter":69400,"acc":0.9075},{"series":"ROAST-10x-Local","iter":70600,"acc":0.9078},{"series":"ROAST-10x-Local","iter":71900,"acc":0.9075},{"series":"ROAST-10x-Local","iter":73200,"acc":0.9072},{"series":"ROAST-10x-Local","iter":74500,"acc":0.907},{"series":"ROAST-10x-Local","iter":75800,"acc":0.9055},{"series":"ROAST-10x-Local","iter":77100,"acc":0.9055},{"series":"ROAST-10x-Local","iter":78400,"acc":0.906},{"series":"ROAST-10x-Local","iter":79700,"acc":0.9068},{"series":"ROAST-10x-Local","iter":81000,"acc":0.9075},{"series":"ROAST-10x-Local","iter":82200,"acc":0.9078},{"series":"ROAST-10x-Local","iter":83500,"acc":0.908},{"series":"ROAST-10x-Local","iter":84800,"acc":0.9082},{"series":"ROAST-10x-Local","iter":86100,"acc":0.908},{"series":"ROAST-10x-Local","iter":87400,"acc":0.9082},{"series":"ROAST-10x-Local","iter":88700,"acc":0.907},{"series":"ROAST-10x-Local","iter":90000,"acc":0.906},{"series":"ROAST-10x-Local","iter":91300,"acc":0.9058},{"series":"ROAST-10x-Local","iter":92600,"acc":0.9055},{"series":"ROAST-10x-Local","iter":93800,"acc":0.9052},{"series":"ROAST-10x-Local","iter":95100,"acc":0.9055},{"series":"ROAST-10x-Local","iter":97100,"acc":0.9055},{"series":"ROAST-10x-Local","iter":99000,"acc":0.906},{"series":"ROAST-10x-Local","iter":101000,"acc":0.9062},{"series":"ROAST-10x-Local","iter":102900,"acc":0.9068},{"series":"ROAST-10x-Local","iter":104100,"acc":0.907},{"series":"ROAST-10x-Local","iter":105400,"acc":0.9065},{"series":"ROAST-10x-Local","iter":106700,"acc":0.9052},{"series":"ROAST-10x-Local","iter":108000,"acc":0.9048},{"series":"ROAST-10x-Local","iter":109300,"acc":0.9042},{"series":"ROAST-10x-Local","iter":110600,"acc":0.905},{"series":"ROAST-10x-Local","iter":111800,"acc":0.9048},{"series":"ROAST-10x-Local","iter":113100,"acc":0.905},{"series":"ROAST-10x-Local","iter":115100,"acc":0.9045},{"series":"ROAST-10x-Local","iter":117000,"acc":0.9045},{"series":"ROAST-10x-Local","iter":119000,"acc":0.9048},{"series":"ROAST-10x-Local","iter":120900,"acc":0.9045},{"series":"ROAST-10x-Local","iter":122200,"acc":0.904},{"series":"ROAST-10x-Local","iter":123500,"acc":0.9035},{"series":"ROAST-10x-Local","iter":124800,"acc":0.902},{"series":"ROAST-10x-Local","iter":126600,"acc":0.9005},{"series":"ROAST-10x-Local","iter":127900,"acc":0.9012},{"series":"ROAST-10x-Local","iter":129300,"acc":0.9025},{"series":"ROAST-10x-Local","iter":131200,"acc":0.9028},{"series":"ROAST-10x-Local","iter":133100,"acc":0.9025},{"series":"ROAST-10x-Local","iter":135000,"acc":0.9022},{"series":"ROAST-10x-Local","iter":137000,"acc":0.9025},{"series":"ROAST-10x-Local","iter":138900,"acc":0.9028},{"series":"ROAST-10x-Local","iter":140900,"acc":0.9022},{"series":"ROAST-10x-Local","iter":142800,"acc":0.9015},{"series":"ROAST-10x-Local","iter":144800,"acc":0.9},{"series":"ROAST-10x-Local","iter":146000,"acc":0.8992},{"series":"ROAST-10x-Local","iter":147300,"acc":0.8995},{"series":"ROAST-10x-Local","iter":148700,"acc":0.9005},{"series":"ROAST-10x-Local","iter":149900,"acc":0.901},{"series":"ROAST-10x-Local","iter":151200,"acc":0.9012},{"series":"ROAST-10x-Local","iter":152500,"acc":0.9002},{"series":"ROAST-10x-Local","iter":153900,"acc":0.9008},{"series":"ROAST-10x-Local","iter":154800,"acc":0.9005},{"series":"ROAST-10x-Local","iter":156000,"acc":0.9008}
]
},
"hconcat": [
 {
  "width": 401, "height": 299,
  "data": {"name": "a"},
  "title": {"text": "(a) GMS vs. LMS 100× Yelp", "offset": 17, "dx": 15},
  "mark": {"type": "line", "clip": true, "strokeWidth": 1.8},
  "encoding": {
   "x": {"field": "iter", "type": "quantitative", "title": "Iterations", "scale": {"domain": [-2800, 166700], "nice": false, "zero": false}, "axis": {"values": [0, 20000, 40000, 60000, 80000, 100000, 120000, 140000, 160000], "format": "d", "titlePadding": 3}},
   "y": {"field": "acc", "type": "quantitative", "title": "Accuracy", "scale": {"domain": [0.8608, 0.9155], "nice": false, "zero": false}, "axis": {"values": [0.87, 0.88, 0.89, 0.90, 0.91], "format": ".2f", "titlePadding": 5}},
   "color": {"field": "series", "type": "nominal", "sort": null, "scale": {"domain": ["ORIG", "ROAST-100x-Global", "ROAST-100x-Local"], "range": ["#1f77b4", "#ff7f0e", "#2ca02c"]}, "legend": {"legendX": 122, "legendY": 194}}
  }
 },
 {
  "width": 400, "height": 299,
  "data": {"name": "b"},
  "title": {"text": "(b) GMS vs. LMS 10× Yelp", "offset": 17, "dx": -18},
  "mark": {"type": "line", "clip": true, "strokeWidth": 1.8},
  "encoding": {
   "x": {"field": "iter", "type": "quantitative", "title": "Iterations", "scale": {"domain": [1660, 156400], "nice": false, "zero": false}, "axis": {"values": [20000, 40000, 60000, 80000, 100000, 120000, 140000], "format": "d", "titlePadding": 3}},
   "y": {"field": "acc", "type": "quantitative", "title": "Accuracy", "scale": {"domain": [0.8453, 0.9113], "nice": false, "zero": false}, "axis": {"values": [0.85, 0.86, 0.87, 0.88, 0.89, 0.90, 0.91], "format": ".2f", "titlePadding": 5}},
   "color": {"field": "series", "type": "nominal", "sort": null, "scale": {"domain": ["ORIG", "ROAST-10x-Global", "ROAST-10x-Local"], "range": ["#1f77b4", "#ff7f0e", "#2ca02c"]}, "legend": {"legendX": 11, "legendY": 194}}
  }
 }
],
"spacing": 60,
"resolve": {"scale": {"color": "independent", "x": "independent", "y": "independent"}, "legend": {"color": "independent"}}
}
